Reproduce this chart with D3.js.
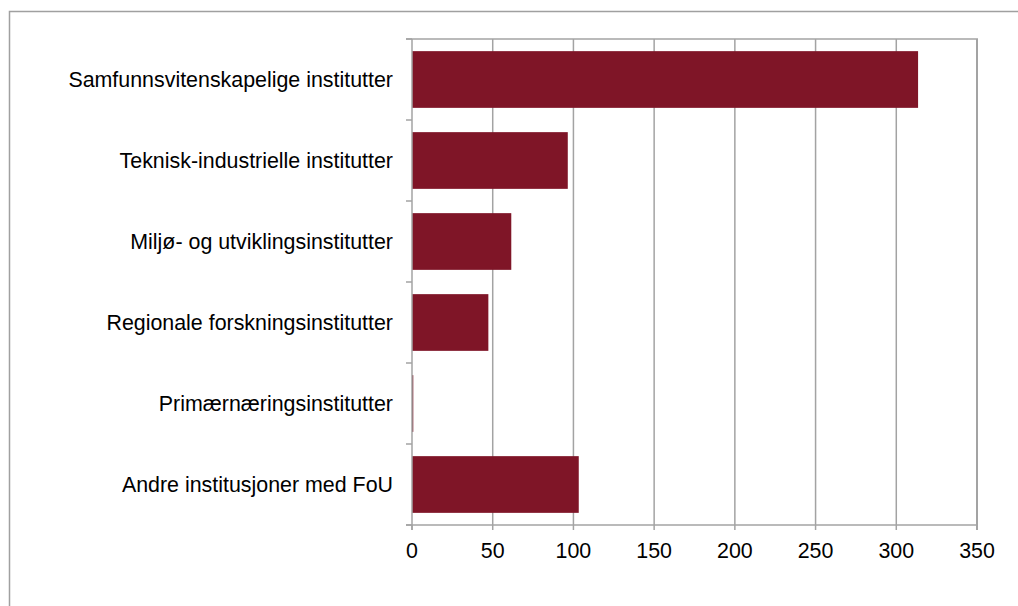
<!DOCTYPE html>
<html>
<head>
<meta charset="utf-8">
<script src="https://cdn.jsdelivr.net/npm/d3@7"></script>
<style>
  body { margin: 0; background: #fff; }
  text { font-family: "Liberation Sans", Arial, sans-serif; fill: #000; }
</style>
</head>
<body>
<svg width="1018" height="606"></svg>
<script>
const categories = [
    "Samfunnsvitenskapelige institutter",
    "Teknisk-industrielle institutter",
    "Miljø- og utviklingsinstitutter",
    "Regionale forskningsinstitutter",
    "Primærnæringsinstitutter",
    "Andre institusjoner med FoU"
];
const values = [313.5, 96.5, 61.5, 47.3, 0.8, 103.3];
const xTicks = [0, 50, 100, 150, 200, 250, 300, 350];

const svg = d3.select("svg");
const gridColor = "#a3a3a3";

// outer chart frame (only top and left edges are visible)
svg.append("path")
    .attr("d", "M9.5,606 V11.5 H1018")
    .attr("fill", "none")
    .attr("stroke", "#a0a0a0")
    .attr("stroke-width", 1.5);

const plotLeft = 412, plotRight = 977, plotTop = 39, plotBottom = 525;

const x = d3.scaleLinear().domain([0, 350]).range([plotLeft, plotRight]);
const y = d3.scaleBand().domain(categories).range([plotTop, plotBottom])
    .paddingInner(0.3).paddingOuter(0.15);

// vertical gridlines
svg.append("g").selectAll("line")
    .data(xTicks.slice(1))
    .enter().append("line")
        .attr("x1", d => x(d)).attr("x2", d => x(d))
        .attr("y1", plotTop).attr("y2", plotBottom)
        .attr("stroke", gridColor)
        .attr("stroke-width", d => d === 350 ? 2 : 1.5);

// top border of plot area
svg.append("line")
    .attr("x1", plotLeft - 6).attr("x2", plotRight + 1)
    .attr("y1", plotTop).attr("y2", plotTop)
    .attr("stroke", gridColor).attr("stroke-width", 1.5);

// bars
svg.append("g").selectAll("rect")
    .data(values)
    .enter().append("rect")
        .attr("x", x(0))
        .attr("y", (d, i) => y(categories[i]))
        .attr("width", d => x(d) - x(0))
        .attr("height", y.bandwidth())
        .attr("fill", "#7f1527");

// y axis with ticks at band boundaries
const band = (plotBottom - plotTop) / categories.length;
svg.append("line")
    .attr("x1", plotLeft).attr("x2", plotLeft)
    .attr("y1", plotTop).attr("y2", plotBottom + 5)
    .attr("stroke", gridColor).attr("stroke-width", 1.5);
svg.append("g").selectAll("line")
    .data(d3.range(categories.length + 1))
    .enter().append("line")
        .attr("x1", plotLeft - 6).attr("x2", plotLeft)
        .attr("y1", i => plotTop + i * band).attr("y2", i => plotTop + i * band)
        .attr("stroke", gridColor).attr("stroke-width", 1.5);

svg.append("g").selectAll("text")
    .data(categories)
    .enter().append("text")
        .attr("x", plotLeft - 19)
        .attr("y", d => y(d) + y.bandwidth() / 2)
        .attr("dy", "0.35em")
        .attr("text-anchor", "end")
        .attr("font-size", 21.4)
        .text(d => d);

// x axis
svg.append("line")
    .attr("x1", plotLeft - 6).attr("x2", plotRight + 1)
    .attr("y1", plotBottom).attr("y2", plotBottom)
    .attr("stroke", gridColor).attr("stroke-width", 1.5);
svg.append("g").selectAll("line")
    .data(xTicks)
    .enter().append("line")
        .attr("x1", d => x(d)).attr("x2", d => x(d))
        .attr("y1", plotBottom).attr("y2", plotBottom + 5)
        .attr("stroke", gridColor).attr("stroke-width", d => d === 350 ? 2 : 1.5);
svg.append("g").selectAll("text")
    .data(xTicks)
    .enter().append("text")
        .attr("x", d => x(d))
        .attr("y", plotBottom + 33)
        .attr("text-anchor", "middle")
        .attr("font-size", 21.4)
        .text(d => d);
</script>
</body>
</html>
